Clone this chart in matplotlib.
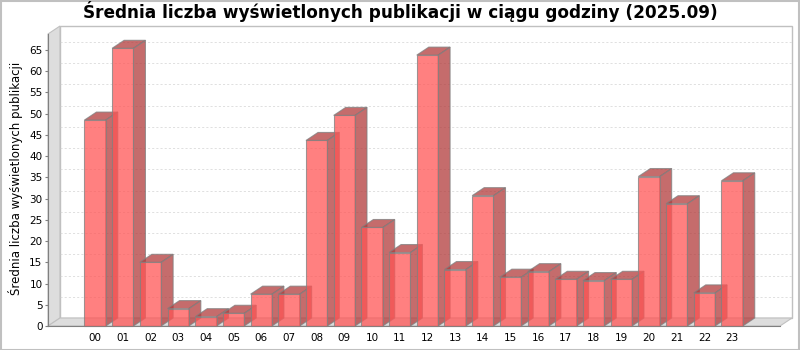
import matplotlib
matplotlib.use("Agg")
import matplotlib.pyplot as plt
from matplotlib.patches import Polygon, Rectangle

# dane: średnia liczba wyświetleń w każdej godzinie
hours = ["%02d" % h for h in range(24)]
values = [48.5, 65.4, 15.0, 4.1, 2.2, 3.0, 7.5, 7.5, 43.7, 49.6, 23.2, 17.3,
          63.8, 13.3, 30.7, 11.5, 12.8, 11.0, 10.7, 11.0, 35.2, 28.8, 7.8, 34.2]
y_ticks = list(range(0, 70, 5))

title = "Średnia liczba wyświetlonych publikacji w ciągu godziny (2025.09)"
y_label = "Średnia liczba wyświetlonych publikacji"

W, H = 800, 350
fig = plt.figure(figsize=(W / 100, H / 100), dpi=100)
fig.patch.set_facecolor("white")

# przednia płaszczyzna wykresu (piksele)
px0, px1, py_top, py_bot = 48, 780, 34, 326
off_x, off_y = 12, 8  # przesunięcie 3D w pikselach

ax = fig.add_axes([px0 / W, (H - py_bot) / H, (px1 - px0) / W, (py_bot - py_top) / H])
ax.set_facecolor("none")

xmin, xmax = -1.70, 24.73
ymax = 68.77
ax.set_xlim(xmin, xmax)
ax.set_ylim(0, ymax)

dx = off_x * (xmax - xmin) / (px1 - px0)
dy = off_y * ymax / (py_bot - py_top)

for s in ax.spines.values():
    s.set_visible(False)

# tylna ściana
ax.add_patch(Polygon([(xmin + dx, dy), (xmax + dx, dy), (xmax + dx, ymax + dy), (xmin + dx, ymax + dy)],
                     closed=True, facecolor="white", edgecolor="#c0c0c0", lw=1.0, clip_on=False, zorder=0))
# linie siatki
for t in y_ticks:
    ax.plot([xmin + dx, xmax + dx], [t + dy, t + dy], color="#dadada", lw=0.6,
            linestyle=(0, (2.5, 2.5)), clip_on=False, zorder=0.5)
# lewa ściana
ax.add_patch(Polygon([(xmin, 0), (xmin + dx, dy), (xmin + dx, ymax + dy), (xmin, ymax)],
                     closed=True, facecolor="#dddddd", edgecolor="#c0c0c0", lw=0.8, clip_on=False, zorder=1))
# podłoga
ax.add_patch(Polygon([(xmin, 0), (xmax, 0), (xmax + dx, dy), (xmin + dx, dy)],
                     closed=True, facecolor="#dddddd", edgecolor="#c0c0c0", lw=0.8, clip_on=False, zorder=1))

# słupki 3D
face = (1.0, 85 / 255, 85 / 255)
dark = (178 / 255, 59 / 255, 59 / 255)
edge = "#808080"
bw = 0.77
z = 2
for i, v in enumerate(values):
    l, r = i - bw / 2, i + bw / 2
    side = Polygon([(r, 0), (r + dx, dy), (r + dx, v + dy), (r, v)], closed=True,
                   facecolor=dark, edgecolor=edge, alpha=0.75, lw=0.8, clip_on=False, zorder=z)
    top = Polygon([(l, v), (r, v), (r + dx, v + dy), (l + dx, v + dy)], closed=True,
                  facecolor=dark, edgecolor=edge, alpha=0.75, lw=0.8, clip_on=False, zorder=z)
    front = Rectangle((l, 0), bw, v, facecolor=face, edgecolor=edge, alpha=0.75, lw=0.8,
                      clip_on=False, zorder=z + 0.5)
    ax.add_patch(side)
    ax.add_patch(top)
    ax.add_patch(front)
    z += 1

# osie
ax.set_xticks(range(len(hours)))
ax.set_xticklabels(hours, fontsize=7.5)
ax.tick_params(axis="x", length=0, pad=5)
ax.set_yticks(y_ticks)
ax.set_yticklabels([str(t) for t in y_ticks], fontsize=7.5)
ax.tick_params(axis="y", length=2, width=0.8, color="#808080", pad=2)
ax.plot([xmin, xmin], [0, ymax], color="#808080", lw=0.8, clip_on=False, zorder=1.5)
ax.plot([xmin, xmax], [0, 0], color="#808080", lw=0.8, clip_on=False, zorder=1.5)

fig.text(16 / W, 1 - 178 / H, y_label, rotation=90, ha="center", va="center", fontsize=8.5)
fig.text(0.5, 1 - 12 / H, title, ha="center", va="center", fontsize=12.2, fontweight="bold")

# obramowanie obrazka
fig.patches.append(Rectangle((0.5 / W, 0.5 / H), 1 - 1.5 / W, 1 - 1.5 / H, transform=fig.transFigure,
                             fill=False, edgecolor="#c0c0c0", lw=1.5))

fig.savefig("out.png", dpi=100)
